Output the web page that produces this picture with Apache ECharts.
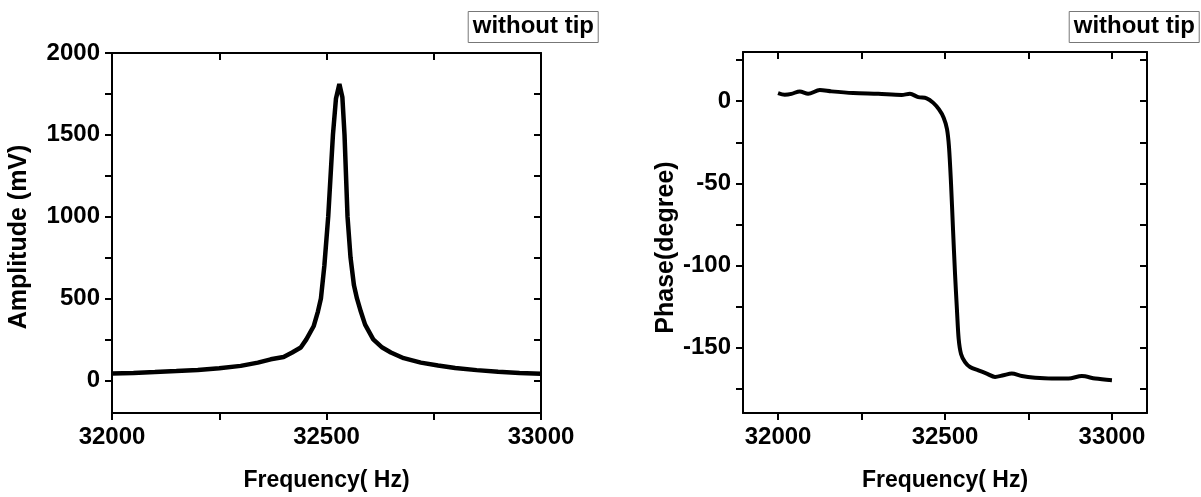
<!DOCTYPE html>
<html>
<head>
<meta charset="utf-8">
<script src="https://cdn.jsdelivr.net/npm/echarts@6/dist/echarts.min.js"></script>
<style>html,body{margin:0;padding:0;background:#fff}#c{width:1201px;height:497px}</style>
</head>
<body>
<div id="c"></div>
<script>
// Amplitude vs frequency (left panel)
const ampFreq = [32000,32050,32100,32150,32200,32250,32300,32340,32370,32400,32420,32440,32453,32470,32480,32487,32495,32504,32515,32522,32530,32537,32542,32549,32556,32564,32571,32580,32590,32609,32630,32650,32680,32720,32760,32800,32850,32900,32950,33000];
const ampValues = [42,45,50,56,63,73,88,108,128,142,170,200,250,330,420,500,700,1000,1500,1720,1810,1730,1500,1000,750,580,500,420,340,250,200,170,135,108,90,75,62,52,45,40];

// Phase vs frequency (right panel)
const phaseFreq = [32000,32020,32040,32065,32090,32125,32160,32225,32300,32370,32395,32420,32445,32465,32482,32496,32506,32512,32518,32524,32530,32536,32541,32548,32560,32575,32600,32625,32650,32675,32700,32730,32770,32820,32870,32910,32950,33000];
const phaseValues = [5,4,4.5,6,4.5,6.8,6,5,4.5,3.8,4.5,2.5,1.8,-1,-5,-10,-17,-28,-50,-78,-105,-128,-145,-154,-159,-162,-164,-166,-168,-167,-166,-167.5,-168.5,-169,-169,-167.5,-169,-170];

// Tick values and labels
const ampXTicks = [32000,32250,32500,32750,33000];
const ampXLabels = [32000,32500,33000];
const ampYTicks = [0,250,500,750,1000,1250,1500,1750,2000];
const ampYLabels = [0,500,1000,1500,2000];
const phXTicks = [32000,32250,32500,32750,33000];
const phXLabels = [32000,32500,33000];
const phYTicks = [-175,-150,-125,-100,-75,-50,-25,0,25];
const phYLabels = [-150,-100,-50,0];

const FONT = "'Liberation Sans',Arial,sans-serif";
const lblStyle = {fontFamily: FONT, fontWeight: 'bold', fontSize: 24, color: '#000'};

function xAx(grid, min, max, ticks, labels, name, pos) {
  const main = pos === 'bottom';
  return {
    type: 'value', gridIndex: grid, position: pos, min: min, max: max,
    splitLine: {show: false},
    axisLine: {show: true, onZero: false, lineStyle: {color: '#000', width: 2}},
    axisTick: {show: true, inside: !main, length: 7, customValues: ticks, lineStyle: {color: '#000', width: 2}},
    axisLabel: main ? Object.assign({show: true, customValues: labels, margin: 12, formatter: v => String(v)}, lblStyle) : {show: false},
    name: main ? name : '', nameLocation: 'middle', nameGap: 56,
    nameTextStyle: {fontFamily: FONT, fontWeight: 'bold', fontSize: 23, color: '#000'}
  };
}
function yAx(grid, min, max, ticks, labels, name, pos, gap, pad) {
  const main = pos === 'left';
  return {
    type: 'value', gridIndex: grid, position: pos, min: min, max: max,
    splitLine: {show: false},
    axisLine: {show: true, onZero: false, lineStyle: {color: '#000', width: 2}},
    axisTick: {show: true, inside: !main, length: 7, customValues: ticks, lineStyle: {color: '#000', width: 2}},
    axisLabel: main ? Object.assign({show: true, customValues: labels, margin: 12, formatter: v => String(v)}, lblStyle) : {show: false},
    name: main ? name : '', nameLocation: 'middle', nameGap: gap,
    nameTextStyle: {fontFamily: FONT, fontWeight: 'bold', fontSize: 25, color: '#000', padding: pad || 0}
  };
}

const boxText = {fontFamily: FONT, fontWeight: 'bold', fontSize: 24, color: '#000'};

const chart = echarts.init(document.getElementById('c'), null, {renderer: 'canvas'});
chart.setOption({
  animation: false,
  backgroundColor: '#fff',
  title: [
    {text: 'without tip', right: 603, top: 11, padding: [3, 4, 5, 5], borderWidth: 1, borderColor: '#777', textStyle: boxText},
    {text: 'without tip', right: 2, top: 11, padding: [3, 4, 5, 5], borderWidth: 1, borderColor: '#777', textStyle: boxText}
  ],
  grid: [
    {left: 112, top: 53, width: 429, height: 361},
    {left: 743, top: 52, width: 404, height: 362}
  ],
  xAxis: [
    xAx(0, 32000, 33000, ampXTicks, ampXLabels, 'Frequency( Hz)', 'bottom'),
    xAx(0, 32000, 33000, ampXTicks, ampXLabels, '', 'top'),
    xAx(1, 31895, 33105, phXTicks, phXLabels, 'Frequency( Hz)', 'bottom'),
    xAx(1, 31895, 33105, phXTicks, phXLabels, '', 'top')
  ],
  yAxis: [
    yAx(0, -200, 2000, ampYTicks, ampYLabels, 'Amplitude (mV)', 'left', 80, [0, 8, 0, 0]),
    yAx(0, -200, 2000, ampYTicks, ampYLabels, '', 'right', 0),
    yAx(1, -190, 30, phYTicks, phYLabels, 'Phase(degree)', 'left', 62, [0, 30, 0, 0]),
    yAx(1, -190, 30, phYTicks, phYLabels, '', 'right', 0)
  ],
  series: [
    {type: 'line', xAxisIndex: 0, yAxisIndex: 0, showSymbol: false, smooth: false,
     lineStyle: {color: '#000', width: 4.5}, data: ampFreq.map((f, i) => [f, ampValues[i]])},
    {type: 'line', xAxisIndex: 2, yAxisIndex: 2, showSymbol: false, smooth: 0.3,
     lineStyle: {color: '#000', width: 4}, data: phaseFreq.map((f, i) => [f, phaseValues[i]])}
  ]
});
</script>
</body>
</html>
